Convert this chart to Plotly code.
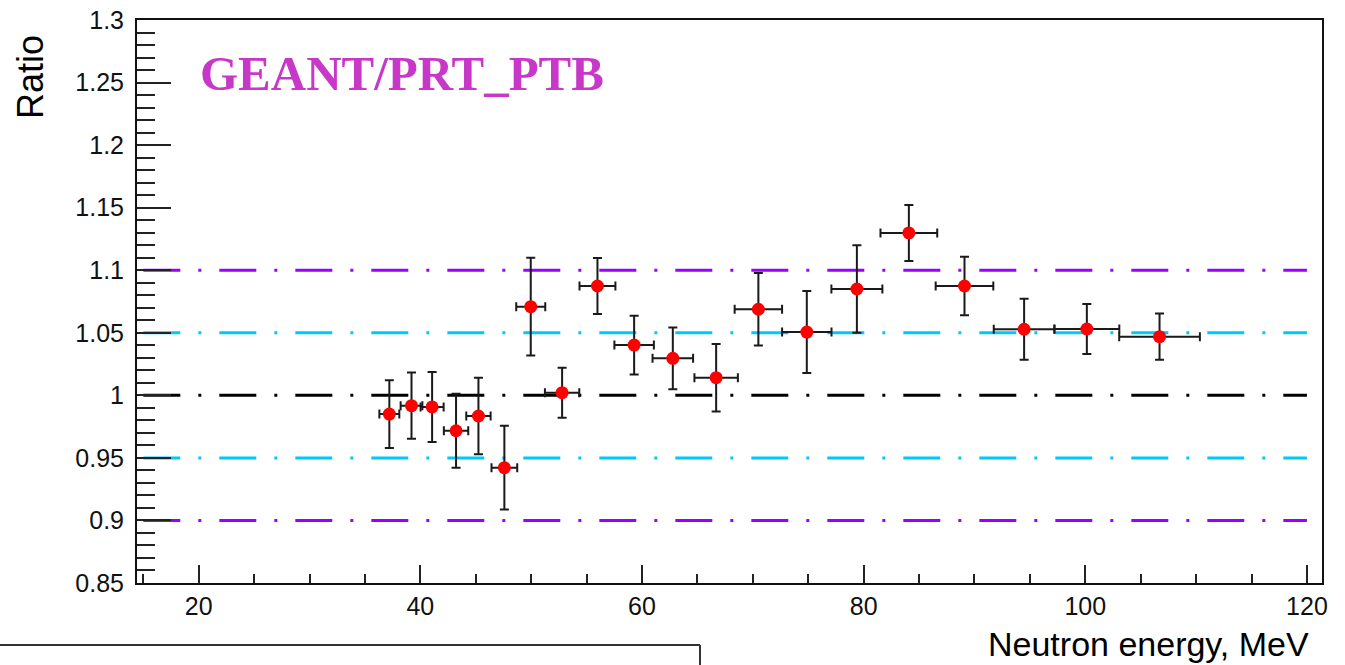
import plotly.graph_objects as go

# Neutron energy bins (MeV) and GEANT / PRT_PTB ratio with uncertainties
energy = [37.2, 39.2, 41.06, 43.22, 45.24, 47.58, 49.96, 52.79, 55.98, 59.29,
          62.78, 66.69, 70.5, 74.87, 79.39, 84.08, 89.1, 94.48, 100.14, 106.7]
energy_err = [0.9, 0.98, 1.04, 1.1, 1.1, 1.16, 1.31, 1.55, 1.62, 1.78,
              1.83, 1.96, 2.14, 2.23, 2.3, 2.56, 2.6, 2.74, 2.93, 3.64]
ratio = [0.985, 0.9917, 0.9907, 0.9717, 0.9835, 0.9422, 1.0709, 1.0021, 1.0874, 1.0402,
         1.0296, 1.0141, 1.0688, 1.0506, 1.085, 1.1298, 1.0874, 1.0528, 1.053, 1.0469]
ratio_err = [0.027, 0.0265, 0.028, 0.0295, 0.0305, 0.0335, 0.039, 0.02, 0.0223, 0.0235,
             0.0247, 0.027, 0.029, 0.0327, 0.035, 0.0224, 0.0234, 0.0243, 0.02, 0.0185]

# Reference levels drawn as dash-dot lines
ref_levels = [1.1, 1.05, 1.0, 0.95, 0.9]
ref_colors = ["#9a00ff", "#00c8ff", "#000000", "#00c8ff", "#9a00ff"]
ref_x = [15, 120]

xtick_vals = [20, 40, 60, 80, 100, 120]
xtick_text = ["20", "40", "60", "80", "100", "120"]
ytick_vals = [0.85, 0.9, 0.95, 1.0, 1.05, 1.1, 1.15, 1.2, 1.25, 1.3]
ytick_text = ["0.85", "0.9", "0.95", "1", "1.05", "1.1", "1.15", "1.2", "1.25", "1.3"]

fig = go.Figure()

for lvl, col in zip(ref_levels, ref_colors):
    fig.add_trace(go.Scatter(
        x=ref_x, y=[lvl, lvl], mode="lines",
        line=dict(color=col, width=3, dash="37px,18px,3px,18px"),
        hoverinfo="skip", showlegend=False,
    ))

fig.add_trace(go.Scatter(
    x=energy, y=ratio, mode="markers",
    marker=dict(color="#ff0000", size=13, symbol="circle"),
    error_x=dict(type="data", array=energy_err, color="#1a1a1a", thickness=2, width=4.5),
    error_y=dict(type="data", array=ratio_err, color="#1a1a1a", thickness=2, width=4.5),
    showlegend=False,
))

tick_font = dict(family="Liberation Sans, Arial, sans-serif", size=25, color="#111")

fig.update_layout(
    width=1345, height=665,
    margin=dict(l=137, r=23, t=20, b=82),
    paper_bgcolor="white", plot_bgcolor="white",
    xaxis=dict(
        range=[14.43, 121.36], showgrid=False, zeroline=False, automargin=False,
        showline=True, mirror=True, linecolor="#111", linewidth=2,
        ticks="inside", ticklen=18, tickwidth=1.5, tickcolor="#222",
        tickvals=xtick_vals, ticktext=xtick_text, tickfont=tick_font,
        ticklabelstandoff=0,
        minor=dict(ticks="inside", ticklen=9, dtick=5, tick0=0, tickwidth=1.5, tickcolor="#222"),
    ),
    yaxis=dict(
        range=[0.85, 1.3], showgrid=False, zeroline=False, automargin=False,
        showline=True, mirror=True, linecolor="#111", linewidth=2,
        ticks="inside", ticklen=34, tickwidth=1.5, tickcolor="#222",
        tickvals=ytick_vals, ticktext=ytick_text, tickfont=tick_font,
        ticklabelstandoff=6,
        minor=dict(ticks="inside", ticklen=18, dtick=0.01, tick0=0.85, tickwidth=1.5, tickcolor="#222"),
    ),
    annotations=[
        dict(text="GEANT/PRT_PTB", xref="paper", yref="paper",
             x=(198 - 137) / 1185, y=(583 - 74) / 563, xanchor="left", yanchor="middle",
             showarrow=False,
             font=dict(family="Liberation Serif, Times New Roman, serif", size=49,
                       color="#c838c8", weight="bold")),
        dict(text="Neutron energy, MeV", xref="paper", yref="paper",
             x=(1311 - 137) / 1185, y=(583 - 644) / 563, xanchor="right", yanchor="middle",
             showarrow=False,
             font=dict(family="Liberation Sans, Arial, sans-serif", size=34, color="#000")),
        dict(text="Ratio", xref="paper", yref="paper", textangle=-90,
             x=(31 - 137) / 1185, y=(583 - 33) / 563, xanchor="center", yanchor="top",
             showarrow=False,
             font=dict(family="Liberation Sans, Arial, sans-serif", size=36, color="#000")),
    ],
    shapes=[
        dict(type="line", xref="paper", yref="paper",
             x0=(0 - 137) / 1185, x1=(700 - 137) / 1185,
             y0=(583 - 645) / 563, y1=(583 - 645) / 563,
             line=dict(color="#333", width=2)),
        dict(type="line", xref="paper", yref="paper",
             x0=(700 - 137) / 1185, x1=(700 - 137) / 1185,
             y0=(583 - 645) / 563, y1=(583 - 670) / 563,
             line=dict(color="#333", width=2)),
    ],
)

fig.write_html("out.html")
